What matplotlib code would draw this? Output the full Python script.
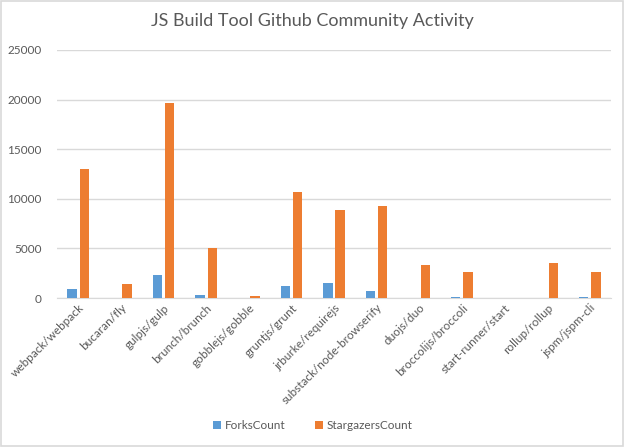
import numpy as np
import matplotlib
matplotlib.use('Agg')
import matplotlib.pyplot as plt
from matplotlib.patches import Rectangle

# data
repos = ['webpack/webpack', 'bucaran/fly', 'gulpjs/gulp', 'brunch/brunch',
         'gobblejs/gobble', 'gruntjs/grunt', 'jrburke/requirejs',
         'substack/node-browserify', 'duojs/duo', 'broccolijs/broccoli',
         'start-runner/start', 'rollup/rollup', 'jspm/jspm-cli']
forks = [950, 20, 2350, 320, 20, 1250, 1550, 750, 30, 110, 10, 40, 110]
stars = [12970, 1450, 19650, 5000, 220, 10650, 8900, 9320, 3350, 2650, 0, 3550, 2650]
y_ticks = [0, 5000, 10000, 15000, 20000, 25000]

blue = '#5B9BD5'
orange = '#ED7D31'
grid_col = '#D9D9D9'
text_col = '#595959'

plt.rcParams['font.family'] = ['Lato', 'DejaVu Sans']

fig = plt.figure(figsize=(6.25, 4.47), dpi=100)
ax = fig.add_axes([0.0912, 0.3333, 0.8864, 0.555])

x = np.arange(len(repos))
w = 0.22
ax.bar(x - 0.145, forks, w, color=blue, label='ForksCount', zorder=3)
ax.bar(x + 0.145, stars, w, color=orange, label='StargazersCount', zorder=3)

ax.set_xlim(-0.5, len(repos) - 0.5)
ax.set_ylim(0, 25000)
ax.set_yticks(y_ticks)
ax.set_yticklabels([str(v) for v in y_ticks], color=text_col, fontsize=8.5)
ax.yaxis.grid(True, color=grid_col, linewidth=1, zorder=0)
ax.tick_params(axis='y', length=0, pad=11)
ax.tick_params(axis='x', length=0, pad=3)

ax.set_xticks(x)
ax.set_xticklabels(repos, rotation=45, ha='right', rotation_mode='anchor',
                   color=text_col, fontsize=8.5)

for side in ['top', 'right', 'left']:
    ax.spines[side].set_visible(False)
ax.spines['bottom'].set_color(grid_col)

fig.text(0.5, 0.952, 'JS Build Tool Github Community Activity', ha='center',
         va='center', fontsize=13, color=text_col)

fig.legend(loc='center', bbox_to_anchor=(0.5, 0.048), ncol=2, frameon=False,
           fontsize=8.5, handlelength=0.7, handleheight=0.7, columnspacing=2.5,
           handletextpad=0.3, labelcolor=text_col)

# light border around the chart area
fig.patches.append(Rectangle((0.002, 0.003), 0.995, 0.994, transform=fig.transFigure,
                             fill=False, edgecolor=grid_col, linewidth=1.2))

fig.savefig('out.png', dpi=100)
